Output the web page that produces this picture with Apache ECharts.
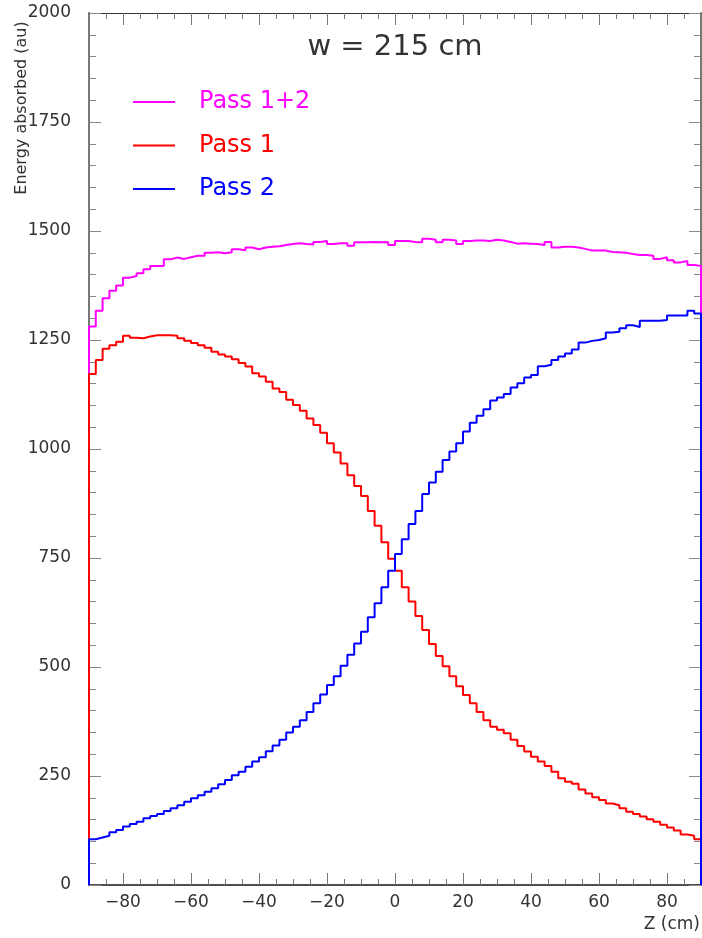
<!DOCTYPE html>
<html>
<head>
<meta charset="utf-8">
<title>Energy absorbed vs Z</title>
<script src="https://cdn.jsdelivr.net/npm/echarts/dist/echarts.min.js"></script>
<style>
  html, body { margin: 0; padding: 0; background: #fff; }
  #chart { width: 702px; height: 938px; }
</style>
</head>
<body>
<div id="chart"></div>
<script>
// histogram binning: 90 bins of 2 cm from -90 to 90
var zMin = -90;
var zMax = 90;
var binWidth = 2;

// energy absorbed per bin (au)
var pass1 = [1172,1204,1230,1238,1246,1260,1255,1254,1258,1261,
             1261,1261,1260,1254,1248,1243,1238,1232,1223,1217,
             1212,1206,1197,1189,1174,1166,1154,1139,1131,1113,
             1101,1088,1070,1055,1037,1013,992,967,940,915,
             892,858,824,786,748,721,683,650,617,585,
             553,525,502,479,456,436,417,397,378,363,
             356,348,333,319,306,294,283,273,260,245,
             237,232,219,210,201,195,187,183,176,168,
             163,157,151,145,138,132,125,116,113,105];

var pass2 = [105,109,113,121,126,134,140,145,153,158,
             163,170,176,183,191,199,206,214,222,231,
             241,252,260,271,283,293,307,320,333,350,
             363,378,397,417,437,459,479,503,528,554,
             581,614,646,683,721,759,793,828,858,897,
             923,948,975,994,1013,1040,1060,1076,1091,1111,
             1118,1126,1141,1151,1164,1170,1190,1193,1204,1212,
             1219,1228,1244,1248,1250,1254,1267,1269,1277,1284,
             1280,1294,1294,1294,1296,1306,1306,1306,1317,1311];

var pass12 = [1281,1317,1346,1363,1375,1393,1397,1403,1412,1420,
              1420,1435,1439,1436,1440,1443,1443,1450,1451,1449,
              1451,1458,1456,1462,1458,1462,1464,1465,1468,1470,
              1472,1470,1469,1475,1477,1470,1472,1472,1466,1474,
              1474,1475,1474,1474,1468,1477,1477,1475,1474,1482,
              1480,1474,1480,1478,1470,1477,1478,1478,1477,1480,
              1478,1475,1471,1472,1471,1470,1468,1475,1462,1464,
              1464,1462,1459,1455,1455,1455,1452,1451,1450,1447,
              1445,1445,1443,1436,1440,1433,1428,1431,1422,1420];

// tick positions
var xMajorTicks = [-80, -60, -40, -20, 0, 20, 40, 60, 80];
var xMinorTicks = [-85, -75, -70, -65, -55, -50, -45, -35, -30, -25, -15, -10, -5,
                   5, 10, 15, 25, 30, 35, 45, 50, 55, 65, 70, 75, 85];

var seriesNames = ['Pass 1+2', 'Pass 1', 'Pass 2'];
var seriesColors = ['#ff00ff', '#ff0000', '#0000ff'];

var font = 'DejaVu Sans';

// outline of a histogram, closed down to 0 at both ends
function histPoints(vals) {
  var pts = [[zMin, 0]];
  for (var i = 0; i < vals.length; i++) {
    pts.push([zMin + i * binWidth, vals[i]]);
  }
  pts.push([zMax, vals[vals.length - 1]]);
  pts.push([zMax, 0]);
  return pts;
}

function xAxisCfg(pos, ticks, len, withLabels) {
  return {
    type: 'value', position: pos, min: zMin, max: zMax,
    axisLine: { show: true, onZero: false,
      lineStyle: { color: pos == 'bottom' ? '#444' : '#333', width: pos == 'bottom' ? 1.5 : 1 } },
    axisTick: { show: true, inside: true, length: len, customValues: ticks,
      lineStyle: { color: '#777', width: 1 } },
    axisLabel: { show: withLabels, customValues: ticks, margin: 9,
      fontFamily: font, fontSize: 17, color: '#333',
      formatter: function (v) { return String(v).replace('-', '\u2212'); } },
    splitLine: { show: false }
  };
}

function yAxisCfg(pos, withLabels) {
  return {
    type: 'value', position: pos, min: 0, max: 2000, interval: 250,
    axisLine: { show: true, onZero: false, lineStyle: { color: '#777', width: 2 } },
    axisTick: { show: true, inside: true, length: 12, lineStyle: { color: '#888', width: 1 } },
    minorTick: { show: true, splitNumber: 5, length: 7, lineStyle: { color: '#888', width: 1 } },
    axisLabel: { show: withLabels, margin: 18, fontFamily: font, fontSize: 17, color: '#333',
      formatter: function (v) { return String(v); } },
    splitLine: { show: false },
    minorSplitLine: { show: false }
  };
}

var chart = echarts.init(document.getElementById('chart'));

var option = {
  animation: false,
  backgroundColor: '#fff',
  grid: { left: 89, right: 1, top: 13, bottom: 53 },
  xAxis: [
    xAxisCfg('bottom', xMajorTicks, 12, true),
    xAxisCfg('bottom', xMinorTicks, 6, false),
    xAxisCfg('top', xMajorTicks, 12, false),
    xAxisCfg('top', xMinorTicks, 6, false)
  ],
  yAxis: [
    yAxisCfg('left', true),
    yAxisCfg('right', false)
  ],
  legend: {
    orient: 'vertical', left: 133, top: 90, padding: 0,
    icon: 'rect', itemWidth: 42, itemHeight: 2, itemGap: 19.5,
    textStyle: { fontFamily: font, fontSize: 24, lineHeight: 24, padding: [0, 0, 0, 19] },
    data: seriesNames.map(function (n, i) {
      return { name: n, textStyle: { color: seriesColors[i] } };
    })
  },
  graphic: [
    { type: 'text', x: 395, y: 47,
      style: { text: 'w = 215 cm', align: 'center', verticalAlign: 'middle',
        font: '29px "DejaVu Sans"', fill: '#333' } },
    { type: 'text', x: 22, y: 108, rotation: Math.PI / 2,
      style: { text: 'Energy absorbed (au)', align: 'center', verticalAlign: 'middle',
        font: '16px "DejaVu Sans"', fill: '#333' } },
    { type: 'text', x: 700, y: 925,
      style: { text: 'Z (cm)', align: 'right', verticalAlign: 'middle',
        font: '17px "DejaVu Sans"', fill: '#333' } }
  ],
  series: [pass12, pass1, pass2].map(function (vals, i) {
    return {
      name: seriesNames[i],
      type: 'line',
      step: 'end',
      xAxisIndex: 0, yAxisIndex: 0,
      showSymbol: false,
      symbol: 'none',
      color: seriesColors[i],
      lineStyle: { color: seriesColors[i], width: 2 },
      data: histPoints(vals),
      z: 2 + i
    };
  })
};

chart.setOption(option);
</script>
</body>
</html>
